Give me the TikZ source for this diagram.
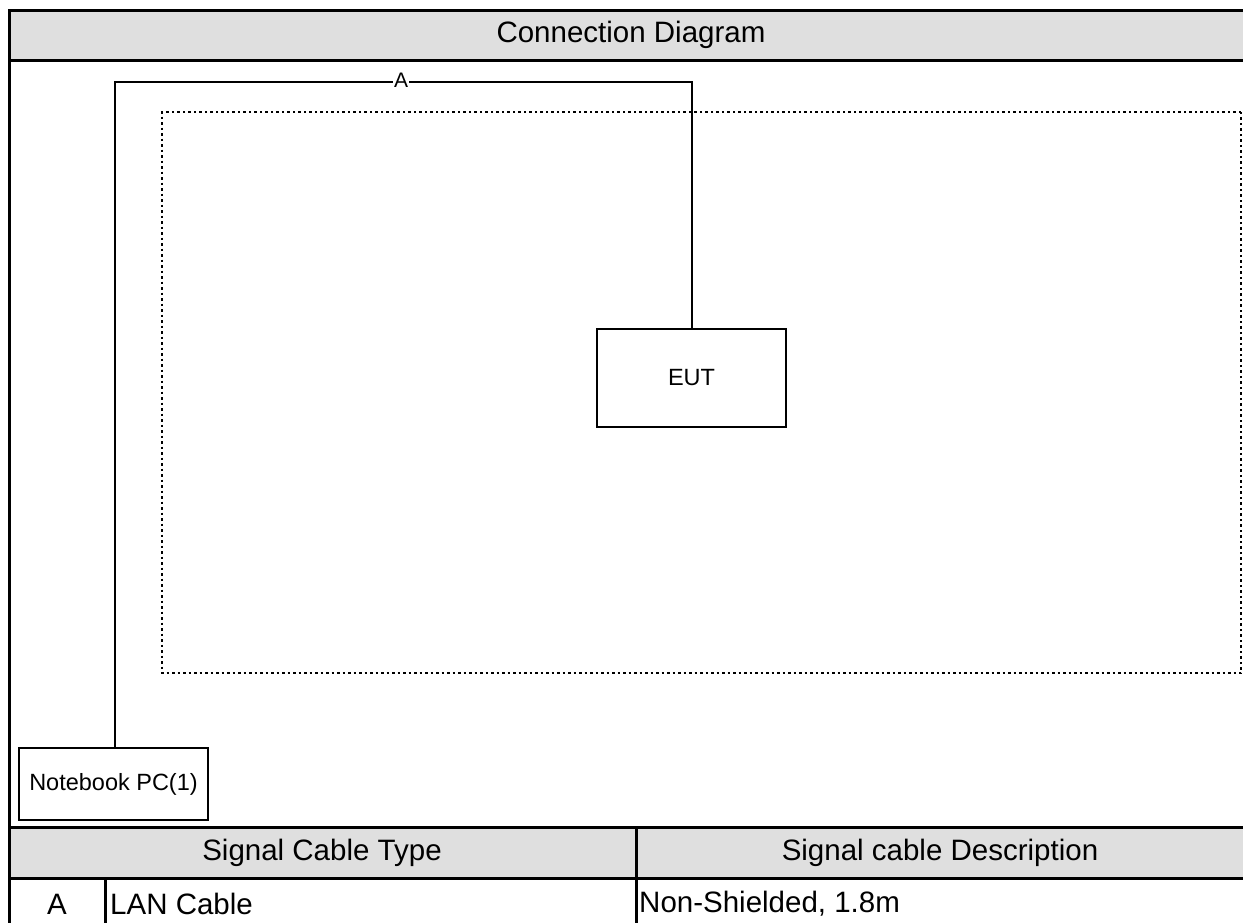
\documentclass[tikz,border=0pt]{standalone}
\usepackage{fontspec}
\setmainfont{Liberation Sans}
\begin{document}
\begin{tikzpicture}[x=1pt,y=-1pt,
  frame/.style={line width=3pt,draw=black},
  hdr/.style={fill=gray!25},
  dev/.style={draw=black,line width=2.6pt,fill=white,inner sep=0pt},
  cable/.style={draw=black,line width=2.6pt},
  bigtxt/.style={font=\fontsize{29.5}{34}\selectfont},
  smalltxt/.style={font=\fontsize{23.5}{28}\selectfont},
  lbl/.style={font=\fontsize{21}{24}\selectfont,fill=white,inner sep=1pt}]
\useasboundingbox (0,0) rectangle (1243,922);
\clip (0,0) rectangle (1243,922);
% header fills
\fill[hdr] (9,10) rectangle (1260,60);
\fill[hdr] (9,827) rectangle (1260,878);
% frame lines
\draw[frame] (1260,10) -- (9,10) -- (9,940);
\draw[frame] (9,60) -- (1260,60);
\draw[frame] (9,827) -- (1260,827);
\draw[frame] (9,878) -- (1260,878);
\draw[frame] (636,827) -- (636,940);
\draw[frame] (105,878) -- (105,940);
% texts in tables
\node[bigtxt] (title) at (631,35) {Connection Diagram};
\node[bigtxt] (h1) at (322,853) {Signal Cable Type};
\node[bigtxt] (h2) at (940,853) {Signal cable Description};
\node[bigtxt] (c1) at (57,904) {A};
\node[bigtxt,anchor=west,inner sep=0pt] (c2) at (110,904) {LAN Cable};
\node[bigtxt,anchor=west,inner sep=0pt] (c3) at (639,904) {Non-Shielded, 1.8m};
% dotted table area
\draw[line width=2.5pt,dash pattern=on 2.5pt off 3pt] (1241,112) -- (162,112) -- (162,673) -- (1241,673) -- cycle;
% devices
\node[dev,minimum width=189pt,minimum height=98pt,smalltxt] (eut) at (691.5,378) {EUT};
\node[dev,minimum width=189pt,minimum height=72pt,smalltxt] (nb) at (113.5,784) {Notebook PC(1)};
% cable
\coordinate (k1) at (115,82);
\coordinate (k2) at (692,82);
\draw[cable] (nb.north -| k1) -- (k1) -- (k2) -- (eut.north -| k2);
\node[lbl] (la) at (401,80) {A};
\end{tikzpicture}
\end{document}
